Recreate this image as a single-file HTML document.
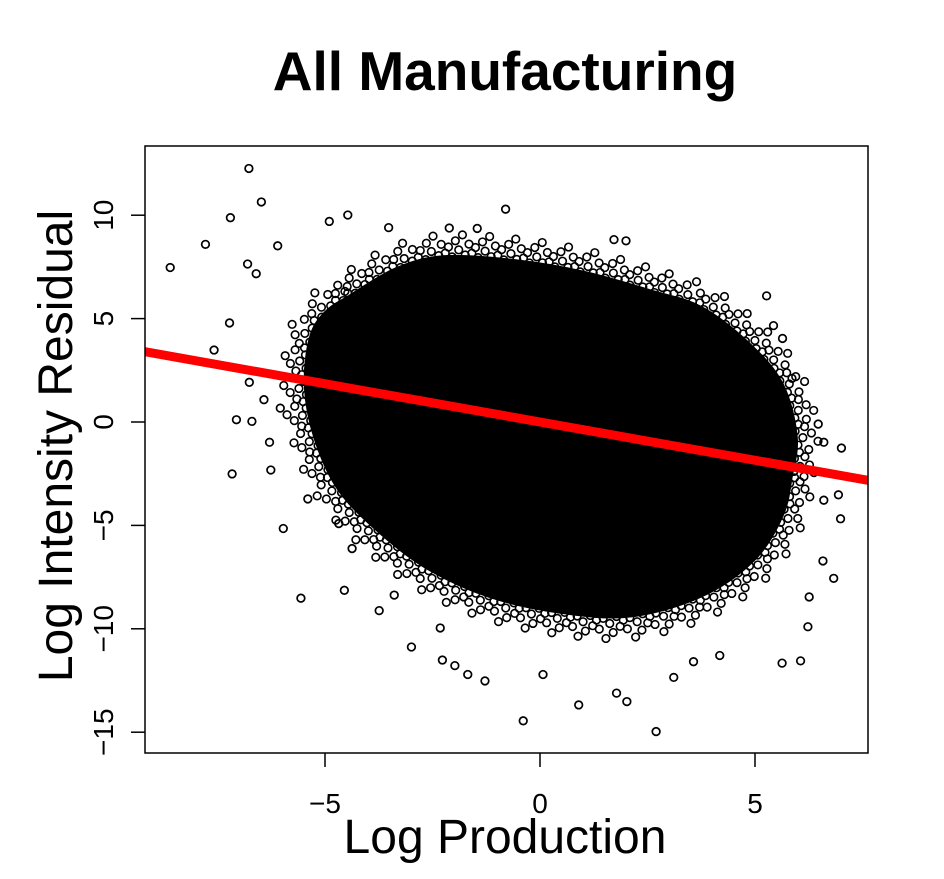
<!DOCTYPE html>
<html><head><meta charset="utf-8"><style>
html,body{margin:0;padding:0;background:#fff;}
svg{display:block;font-family:"Liberation Sans",Arial,sans-serif;}
</style></head><body>
<svg id="chart" width="944" height="879" viewBox="0 0 944 879">
<defs><clipPath id="plotclip"><rect x="145" y="146" width="723" height="607"/></clipPath></defs>
<text x="505" y="90" text-anchor="middle" font-size="55" font-weight="bold">All Manufacturing</text>
<text x="505" y="853" text-anchor="middle" font-size="48">Log Production</text>
<text transform="translate(72,446) rotate(-90)" text-anchor="middle" font-size="48">Log Intensity Residual</text>
<g id="axes"></g>
<g id="marks" clip-path="url(#plotclip)"></g>
<rect x="145" y="146" width="723" height="607" fill="none" stroke="#000" stroke-width="1.5"/>
</svg>
<script>
const xTicks = [-5, 0, 5];
const yTicks = [10, 5, 0, -5, -10, -15];
const xTickLabels = ["\u22125", "0", "5"];
const yTickLabels = ["10", "5", "0", "\u22125", "\u221210", "\u221215"];
// dense core boundary (x, y)
const blobX = [-4.36,-3.29,-2.21,-0.60,1.00,2.61,3.69,4.76,5.51,5.83,5.72,5.51,4.87,3.69,2.08,0.47,-1.14,-2.53,-3.61,-4.57,-5.11,-5.33,-5.22,-4.90];
const blobY = [5.86,7.17,7.73,7.54,6.98,6.04,5.30,3.61,1.74,-0.70,-2.56,-4.44,-6.50,-8.18,-9.12,-8.93,-8.18,-6.87,-5.19,-3.13,-0.70,1.74,3.98,5.11];
// outlying points
const outX = [-6.77,-6.48,-7.20,-7.78,-8.60,-0.80,1.72,2.00,5.27,5.43,5.64,5.86,6.47,6.60,7.01,6.94,6.99,6.60,6.58,6.83,6.26,6.23,6.06,5.63,2.70,-0.39,0.90,2.02,1.78,-1.28,-1.68,-1.98,-2.27,-2.99,-3.74,-4.55,-5.56,-5.97,-7.16,-7.06,-6.70,-7.58,-7.22,-6.60,-6.80,-6.10,-4.90,-4.47,-3.52,-2.11,-1.46,-6.29,-6.04,-6.42,-6.76,-6.26,-5.40,-4.68,-4.37,-3.39,-2.32,0.07,3.11,4.18,3.57];
const outY = [12.26,10.64,9.88,8.59,7.47,10.29,8.82,8.76,6.10,4.66,4.04,2.11,-0.10,-0.98,-1.26,-3.52,-4.68,-3.78,-6.72,-7.56,-8.46,-9.90,-11.55,-11.66,-14.97,-14.45,-13.68,-13.52,-13.11,-12.52,-12.21,-11.78,-11.51,-10.88,-9.12,-8.14,-8.52,-5.15,-2.51,0.11,0.03,3.48,4.79,7.17,7.64,8.52,9.70,10.01,9.40,9.38,9.36,-0.98,0.67,1.08,1.92,-2.32,-3.72,-4.91,-6.12,-8.37,-9.96,-12.21,-12.35,-11.29,-11.59];
const fitIntercept = 0.0;
const fitSlope = -0.37;

const NS = "http://www.w3.org/2000/svg";
const sx = v => 540 + v * 43;
const sy = v => 422 - v * 20.68;
const axes = document.getElementById('axes');
const marks = document.getElementById('marks');
function mk(tag, attrs, parent){const e=document.createElementNS(NS,tag);for(const k in attrs)e.setAttribute(k,attrs[k]);parent.appendChild(e);return e;}

xTicks.forEach((t,i)=>{
  const l = mk('line',{x1:sx(t),x2:sx(t),y1:753,y2:767,stroke:'#000','stroke-width':1.5},axes);
  
  
  const tx = mk('text',{x:sx(t),y:813,'text-anchor':'middle','font-size':28},axes);
  tx.textContent = xTickLabels[i];
  
  
});
yTicks.forEach((t,i)=>{
  const l = mk('line',{x1:131,x2:145,y1:sy(t),y2:sy(t),stroke:'#000','stroke-width':1.5},axes);
  
  
  const tx = mk('text',{transform:`translate(113,${sy(t)}) rotate(-90)`,'text-anchor':'middle','font-size':28},axes);
  tx.textContent = yTickLabels[i];
  
  
});

const P = blobX.map((x,i)=>[sx(x),sy(blobY[i])]);
let d = `M${P[0][0]},${P[0][1]}`;
const n = P.length;
for(let i=0;i<n;i++){
  const p0=P[(i-1+n)%n],p1=P[i],p2=P[(i+1)%n],p3=P[(i+2)%n];
  const c1=[p1[0]+(p2[0]-p0[0])/6,p1[1]+(p2[1]-p0[1])/6];
  const c2=[p2[0]-(p3[0]-p1[0])/6,p2[1]-(p3[1]-p1[1])/6];
  d+=` C${c1[0]},${c1[1]} ${c2[0]},${c2[1]} ${p2[0]},${p2[1]}`;
}
d += 'Z';
const blob = mk('path',{d:d,fill:'#000',stroke:'#000','stroke-width':14,'stroke-linejoin':'round'},marks);



// fringe of circles along the cloud edge (decorative texture)
const fringeG = mk('g',{},marks);


const L = blob.getTotalLength();
const offs = [9, 15, 5, 21, 12, 27, 7, 18];
let k = 0;
for(let s=0; s<L; s+=3.2){
  const a = blob.getPointAtLength(s), b = blob.getPointAtLength((s+1)%L);
  let nx = b.y-a.y, ny = -(b.x-a.x);
  const m = Math.hypot(nx,ny)||1; nx/=m; ny/=m;
  if((a.x-540)*nx+(a.y-440)*ny < 0){nx=-nx;ny=-ny;}
  const o = offs[k%offs.length]; k++;
  const c = mk('circle',{cx:a.x+nx*o,cy:a.y+ny*o,r:3.8,fill:'none',stroke:'#000','stroke-width':1.6},fringeG);
  
  
}

outX.forEach((x,i)=>{
  const c = mk('circle',{cx:sx(x),cy:sy(outY[i]),r:3.8,fill:'none',stroke:'#000','stroke-width':1.7},marks);
  
  
});

const x0=-10,x1=9;
const fit = mk('line',{x1:sx(x0),y1:sy(fitIntercept+fitSlope*x0),x2:sx(x1),y2:sy(fitIntercept+fitSlope*x1),stroke:'#ff0000','stroke-width':9},marks);


</script>
</body></html>
